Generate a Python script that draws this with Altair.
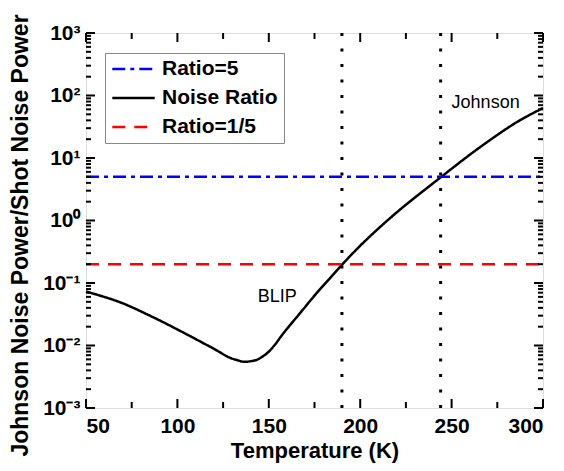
import altair as alt
import pandas as pd

# ---- data ----
temperature = [50, 68, 86, 104, 112, 122, 128, 133, 136, 140, 143.5, 146, 149, 153, 158,
               167, 176, 185, 191, 202, 220, 244, 265, 286, 300]
noise_ratio = [0.073, 0.050, 0.029, 0.0157, 0.0118, 0.0082, 0.0065, 0.0058, 0.0055,
               0.0056, 0.0059, 0.0065, 0.0075, 0.0100, 0.0157, 0.0327, 0.068, 0.134,
               0.21, 0.45, 1.35, 4.9, 14.5, 38, 63]
ratio_hi_x = [50, 300]
ratio_hi_y = [5, 5]
ratio_lo_x = [50, 300]
ratio_lo_y = [0.2, 0.2]
series_names = ["Ratio=5", "Noise Ratio", "Ratio=1/5"]
series_colors = ["#0000ff", "#000000", "#ff0000"]
series_dash = [[13, 5, 4, 5], [1, 0], [13, 9]]
vlines_x = [190, 244]
annot_text = ["Johnson", "BLIP"]
annot_x = [250, 144]
annot_y = [76, 0.06]
x_major = [50, 100, 150, 200, 250, 300]
x_minor = [75, 125, 175, 225, 275]
y_major = [1e-3, 1e-2, 1e-1, 1e0, 1e1, 1e2, 1e3]
y_minor = [m * 10.0 ** e for e in range(-3, 3) for m in range(2, 10)]

W, H = 457, 375
FONT = "Liberation Sans"

rows = []
for t, v in zip(temperature, noise_ratio):
    rows.append({"T": t, "V": v, "series": "Noise Ratio"})
for t, v in zip(ratio_hi_x, ratio_hi_y):
    rows.append({"T": t, "V": v, "series": "Ratio=5"})
for t, v in zip(ratio_lo_x, ratio_lo_y):
    rows.append({"T": t, "V": v, "series": "Ratio=1/5"})
df = pd.DataFrame(rows)

xscale = alt.Scale(domain=[50, 300], nice=False, zero=False)
yscale = alt.Scale(type="log", domain=[1e-3, 1e3], nice=False)

e = "round(log(datum.value)/LN10)"
lab_expr = (f"'10' + ({e}==3 ? '³' : {e}==2 ? '²' : {e}==1 ? '¹' : {e}==0 ? '⁰' : "
            f"{e}==-1 ? '⁻¹' : {e}==-2 ? '⁻²' : '⁻³')")

legend_kw = dict(title=None, orient="none", legendX=19, legendY=20,
                 symbolType="stroke", symbolSize=1800, symbolStrokeWidth=2.5,
                 labelFontSize=21, labelFontWeight="bold", labelFont=FONT,
                 labelColor="black", strokeColor="#888888", fillColor="white",
                 padding=6, rowPadding=8, clipHeight=20, labelLimit=300, labelOffset=6)

lines = alt.Chart(df).mark_line(strokeWidth=2.5, interpolate="catmull-rom").encode(
    x=alt.X("T:Q", scale=xscale,
            axis=alt.Axis(values=x_major, title="Temperature (K)", ticks=False, domain=False,
                          grid=False, labelFontSize=21, labelFontWeight="bold", labelPadding=7,
                          titleFontSize=22, titleFontWeight="bold", titlePadding=4,
                          labelFont=FONT, titleFont=FONT, labelColor="black", titleColor="black")),
    y=alt.Y("V:Q", scale=yscale,
            axis=alt.Axis(values=y_major, labelExpr=lab_expr, title="Johnson Noise Power/Shot Noise Power",
                          ticks=False, domain=False, grid=False, labelFontSize=21, labelFontWeight="bold",
                          labelPadding=6, titleFontSize=23, titleFontWeight="bold", titlePadding=10,
                          titleY=202,
                          labelFont=FONT, titleFont=FONT, labelColor="black", titleColor="black")),
    color=alt.Color("series:N", scale=alt.Scale(domain=series_names, range=series_colors),
                    legend=alt.Legend(**legend_kw)),
    strokeDash=alt.StrokeDash("series:N", scale=alt.Scale(domain=series_names, range=series_dash),
                              legend=alt.Legend(**legend_kw)),
    detail="series:N",
)

vl = alt.Chart(pd.DataFrame({"x": vlines_x})).mark_rule(
    color="black", strokeWidth=3, strokeDash=[3, 12.5]).encode(x=alt.X("x:Q", scale=xscale))

ann = alt.Chart(pd.DataFrame({"t": annot_text, "x": annot_x, "y": annot_y})).mark_text(
    align="left", baseline="middle", fontSize=18, font=FONT, color="black").encode(
    x=alt.X("x:Q", scale=xscale), y=alt.Y("y:Q", scale=yscale), text="t:N")

def xticks(vals, length, top):
    d = pd.DataFrame({"x": vals})
    y0, y1 = (0, length) if top else (H, H - length)
    return alt.Chart(d).mark_rule(color="black", strokeWidth=2).encode(
        x=alt.X("x:Q", scale=xscale), y=alt.value(y0), y2=alt.value(y1))

def yticks(vals, length, right):
    d = pd.DataFrame({"y": vals})
    x0, x1 = (W, W - length) if right else (0, length)
    return alt.Chart(d).mark_rule(color="black", strokeWidth=2).encode(
        y=alt.Y("y:Q", scale=yscale), x=alt.value(x0), x2=alt.value(x1))

ticks = [xticks(x_major, 9, False), xticks(x_minor, 6, False),
         xticks(x_major, 9, True), xticks(x_minor, 6, True),
         yticks(y_major, 9, False), yticks(y_minor, 5, False),
         yticks(y_major, 9, True), yticks(y_minor, 5, True)]

chart = alt.layer(vl, lines, ann, *ticks).properties(
    width=W, height=H,
    autosize=alt.AutoSizeParams(type="none"),
    padding={"left": 78, "top": 25, "right": 12, "bottom": 55},
).configure_view(stroke="black", strokeWidth=2.5).configure(background="white")

chart.save("out.html", embed_options={"renderer": "svg", "actions": False})
